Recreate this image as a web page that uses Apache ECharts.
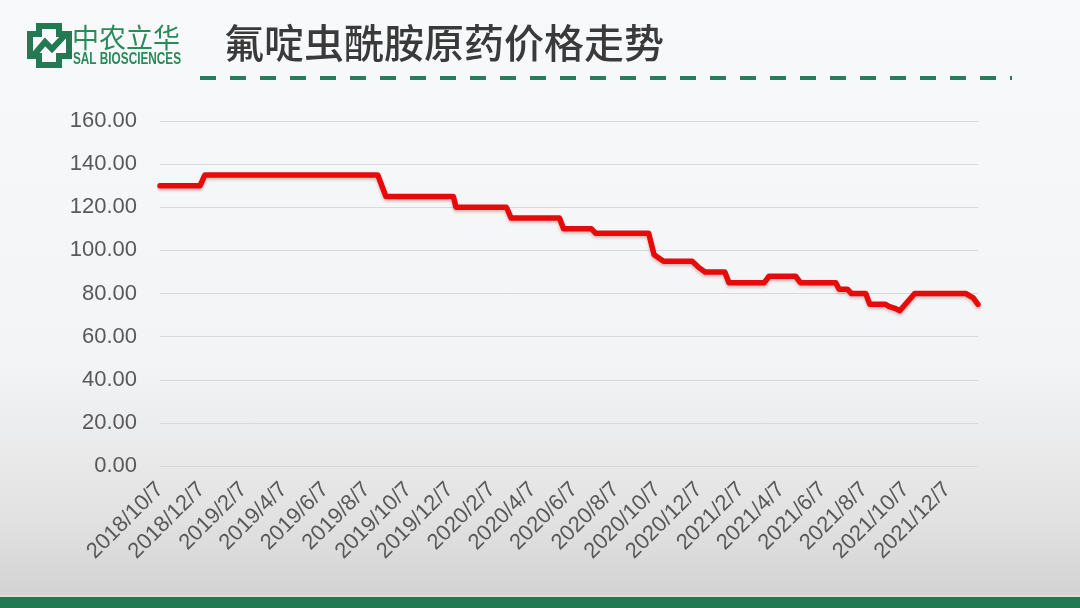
<!DOCTYPE html>
<html>
<head>
<meta charset="utf-8">
<script src="https://cdn.jsdelivr.net/npm/echarts@6/dist/echarts.min.js"></script>
<style>
  html, body { margin: 0; padding: 0; }
  body { width: 1080px; height: 608px; overflow: hidden;
    background: linear-gradient(to bottom, #f8f9fb 0%, #f3f4f6 60%, #e2e2e2 85%, #d4d4d4 97%); }
  #chart { width: 1080px; height: 608px; }
</style>
</head>
<body>
<div id="chart"></div>
<script>
// ---- data ----
const titleText = '氟啶虫酰胺原药价格走势';
const pointDates = [
  '2018/10/7','2018/12/5','2018/12/12','2019/8/23','2019/9/4','2019/12/12','2019/12/16',
  '2020/2/28','2020/3/6','2020/5/16','2020/5/22','2020/7/2','2020/7/8','2020/9/24',
  '2020/10/2','2020/10/16','2020/11/27','2020/12/7','2020/12/16','2021/1/14','2021/1/20',
  '2021/3/13','2021/3/20','2021/4/28','2021/5/5','2021/6/26','2021/7/1','2021/7/13',
  '2021/7/19','2021/8/9','2021/8/15','2021/9/7','2021/9/12','2021/9/22','2021/9/28',
  '2021/10/20','2022/1/3','2022/1/14','2022/1/21'
];
const priceValues = [
  130,130,135,135,125,125,120,
  120,115,115,110,110,108,108,
  98,95,95,92,90,90,85,
  85,88,88,85,85,82,82,
  80,80,75,75,74,73,72,
  80,80,78,75
];
const tickLabels = [
  '2018/10/7','2018/12/7','2019/2/7','2019/4/7','2019/6/7','2019/8/7','2019/10/7',
  '2019/12/7','2020/2/7','2020/4/7','2020/6/7','2020/8/7','2020/10/7','2020/12/7',
  '2021/2/7','2021/4/7','2021/6/7','2021/8/7','2021/10/7','2021/12/7'
];
const axisStart = '2018/10/7';
const axisEnd = '2022/1/21';

// ---- chart ----
const DAY = 86400000;
const dayOf = s => Math.round((new Date(s + ' 12:00').getTime() - new Date(axisStart + ' 12:00').getTime()) / DAY);
const seriesData = pointDates.map((d, i) => [dayOf(d), priceValues[i]]);
const tickDays = tickLabels.map(dayOf);
const labelFor = v => { const i = tickDays.indexOf(Math.round(v)); return i >= 0 ? tickLabels[i] : ''; };

// logo subtitle width fit
const subFont = 'bold 16px "Liberation Sans", Arial, sans-serif';
const cv = document.createElement('canvas').getContext('2d');
cv.font = subFont;
const subScale = 108 / cv.measureText('SAL BIOSCIENCES').width;

const chart = echarts.init(document.getElementById('chart'), null, { renderer: 'canvas' });
const green = '#237a52';
chart.setOption({
  backgroundColor: 'transparent',
  animation: false,
  grid: { left: 160, right: 102, top: 121, bottom: 142, containLabel: false, outerBoundsMode: 'none' },
  xAxis: {
    type: 'value',
    min: 0,
    max: dayOf(axisEnd),
    axisLine: { show: false },
    axisTick: { show: false },
    splitLine: { show: false },
    axisLabel: {
      customValues: tickDays,
      formatter: labelFor,
      rotate: 45,
      margin: 20,
      hideOverlap: false,
      showMinLabel: true,
      showMaxLabel: true,
      color: '#595959',
      fontSize: 22,
      fontFamily: 'Liberation Sans, Arial, sans-serif'
    }
  },
  yAxis: {
    type: 'value',
    min: 0, max: 160, interval: 20,
    axisLine: { show: false },
    axisTick: { show: false },
    splitLine: { lineStyle: { color: '#d9d9d9', width: 1 } },
    axisLabel: {
      formatter: v => v.toFixed(2),
      margin: 23,
      color: '#595959',
      fontSize: 22,
      fontFamily: 'Liberation Sans, Arial, sans-serif'
    }
  },
  series: [{
    type: 'line',
    data: seriesData,
    showSymbol: false,
    symbol: 'none',
    lineStyle: { color: '#e60a0a', width: 5.5, cap: 'round', join: 'round',
      shadowColor: 'rgba(120,0,0,0.25)', shadowBlur: 3, shadowOffsetY: 2 }
  }],
  graphic: [
    { type: 'rect', left: 0, top: 595, shape: { width: 1080, height: 2 }, style: { fill: '#cfe8d6' }, silent: true },
    { type: 'rect', left: 0, top: 597, shape: { width: 1080, height: 11 }, style: { fill: green }, silent: true },
    { type: 'line', shape: { x1: 200, y1: 78, x2: 1012, y2: 78 },
      style: { stroke: '#2b7a5c', lineWidth: 4, lineDash: [16, 14] }, silent: true },
    { type: 'text', x: 224, y: 43,
      style: { text: titleText, fill: '#3a3a3a', verticalAlign: 'middle', font: '500 40px "Noto Sans CJK SC", sans-serif' } },
    { type: 'polygon', shape: { points: [[36,23],[62,23],[62,31],[72,31],[72,59],[62,59],[62,68],[36,68],[36,59],[27,59],[27,31],[36,31]] },
      style: { fill: green } },
    { type: 'polygon', shape: { points: [[42,29],[56,29],[56,37],[66,37],[66,53],[56,53],[56,62],[42,62],[42,53],[33,53],[33,37],[42,37]] },
      style: { fill: '#f8f9fb' } },
    { type: 'polyline', shape: { points: [[33,56],[45,42],[52,49],[66,34]] },
      style: { stroke: green, lineWidth: 6, fill: null } },
    { type: 'text', x: 72, y: 38,
      style: { text: '中农立华', fill: '#2a8a5a', verticalAlign: 'middle', font: '27px "Noto Sans CJK SC", serif' } },
    { type: 'text', x: 73, y: 60, scaleX: subScale,
      style: { text: 'SAL BIOSCIENCES', fill: '#2a8a5a', verticalAlign: 'middle', font: subFont } }
  ]
});
</script>
</body>
</html>
